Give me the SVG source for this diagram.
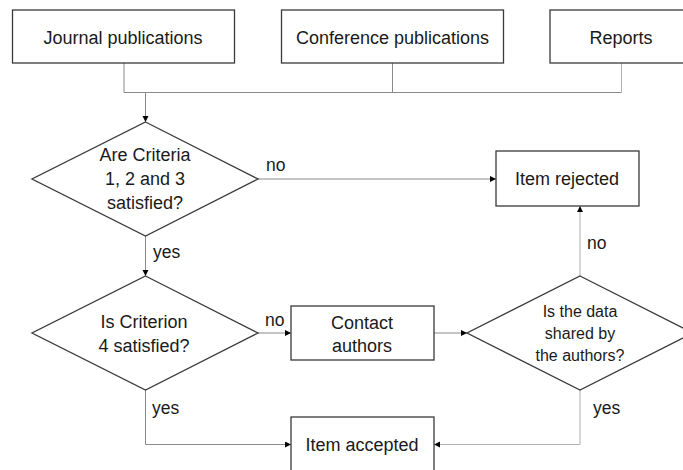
<svg xmlns="http://www.w3.org/2000/svg" width="683" height="470" viewBox="0 0 683 470">
<style>
  .box { fill: #ffffff; stroke: #3a3a3a; stroke-width: 1.3; }
  .t { font-family: "Liberation Sans", Arial, sans-serif; font-size: 18px; fill: #1a1a1a; text-anchor: middle; }
  .ts { font-family: "Liberation Sans", Arial, sans-serif; font-size: 16px; fill: #1a1a1a; text-anchor: middle; }
  .lbl { font-family: "Liberation Sans", Arial, sans-serif; font-size: 17.5px; fill: #1a1a1a; }
  .c { fill: none; stroke: #8a8a8a; stroke-width: 1; }
  .cl { fill: none; stroke: #b0b0b0; stroke-width: 1; }
  .a { marker-end: url(#arr); }
</style>
<defs>
  <marker id="arr" markerUnits="userSpaceOnUse" markerWidth="7" markerHeight="7" refX="6" refY="3" orient="auto">
    <path d="M0,0 L6,3 L0,6 z" fill="#000000"/>
  </marker>
</defs>
<rect width="683" height="470" fill="#ffffff"/>

<g id="connectors">
  <path class="c" d="M124,63 V92.5 H621.5"/>
  <path class="c" d="M392.5,63 V92.5"/>
  <path class="cl" d="M621.5,63 V92.5"/>
  <path class="c a" d="M145.5,92.5 V122"/>
  <path class="c a" d="M258,179 H496"/>
  <path class="c a" d="M145.5,236 V276"/>
  <path class="c a" d="M258,333 H291"/>
  <path class="c a" d="M434,333 H467"/>
  <path class="cl a" d="M580,276 V206"/>
  <path class="c a" d="M145.5,390 V444.5 H291"/>
  <path class="cl a" d="M580,390 V444.5 H434"/>
  <text class="lbl" x="266" y="171">no</text>
  <text class="lbl" x="153" y="258">yes</text>
  <text class="lbl" x="265" y="326">no</text>
  <text class="lbl" x="587" y="249">no</text>
  <text class="lbl" x="152" y="414">yes</text>
  <text class="lbl" x="593" y="414">yes</text>
</g>

<g id="journal">
  <rect class="box" x="12.5" y="10" width="222" height="53"/>
  <text class="t" x="123" y="43.5">Journal publications</text>
</g>
<g id="conference">
  <rect class="box" x="281.5" y="10" width="222" height="53"/>
  <text class="t" x="392.5" y="43.5">Conference publications</text>
</g>
<g id="reports">
  <rect class="box" x="550" y="10" width="142" height="53"/>
  <text class="t" x="621" y="43.5">Reports</text>
</g>
<g id="criteria123">
  <polygon class="box" points="145.5,122 258,179 145.5,236 32,179"/>
  <text class="t" x="145" y="161">Are Criteria</text>
  <text class="t" x="145" y="185">1, 2 and 3</text>
  <text class="t" x="145" y="209">satisfied?</text>
</g>
<g id="rejected">
  <rect class="box" x="496" y="151" width="143" height="55"/>
  <text class="t" x="567" y="185">Item rejected</text>
</g>
<g id="criterion4">
  <polygon class="box" points="145.5,276 258,333 145.5,390 32,333"/>
  <text class="t" x="144" y="328">Is Criterion</text>
  <text class="t" x="144" y="352">4 satisfied?</text>
</g>
<g id="contact">
  <rect class="box" x="291" y="306" width="143" height="54"/>
  <text class="t" x="362" y="328.5">Contact</text>
  <text class="t" x="362" y="352">authors</text>
</g>
<g id="shared">
  <polygon class="box" points="580,276 693,333 580,390 467,333"/>
  <text class="ts" x="580" y="317">Is the data</text>
  <text class="ts" x="580" y="339">shared by</text>
  <text class="ts" x="580" y="361">the authors?</text>
</g>
<g id="accepted">
  <rect class="box" x="291" y="417" width="143" height="54"/>
  <text class="t" x="362" y="451">Item accepted</text>
</g>
</svg>
